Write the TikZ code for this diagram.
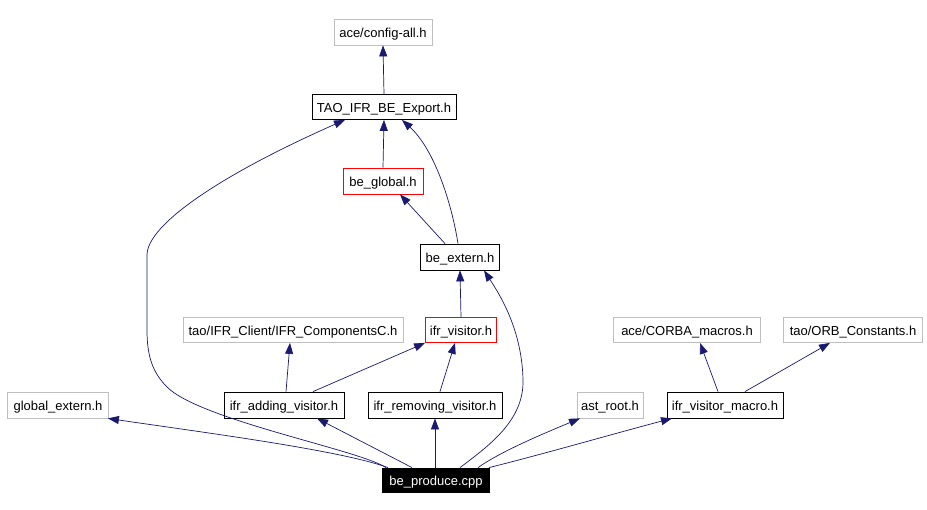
\documentclass[tikz,border=0pt]{standalone}
\usepackage{fontspec}
\setmainfont{Liberation Sans}
\usetikzlibrary{arrows.meta}
\definecolor{edgeblue}{HTML}{191970}
\definecolor{graybox}{HTML}{BFBFBF}
\definecolor{redbox}{HTML}{FF0000}
\tikzset{
  box/.style={draw=black, line width=0.8pt, fill=white, inner sep=0pt, minimum height=25pt,
    text height=12pt, text depth=0pt, font=\fontsize{13}{15}\selectfont},
  graynode/.style={box, draw=graybox},
  rednode/.style={box, draw=redbox},
  blacknode/.style={box, fill=black, text=white},
  dep/.style={draw=edgeblue, line width=0.7pt, -{Triangle[length=11pt,width=8pt]}, fill=none}
}
\begin{document}
\begin{tikzpicture}[x=1pt,y=-1pt]
\useasboundingbox (0,0) rectangle (927,510);
\fill[white] (0,0) rectangle (927,510);
\node[graynode, minimum width=98pt, minimum height=26pt] (config) at (383,32) {ace/config-all.h};
\node[box, minimum width=144pt] (export) at (384,107) {TAO\_IFR\_BE\_Export.h};
\node[rednode, minimum width=80pt, minimum height=26pt] (global) at (383,181) {be\_global.h};
\node[box, minimum width=79pt, minimum height=26pt] (extern) at (460,257) {be\_extern.h};
\node[rednode, minimum width=71pt] (visitor) at (461,330) {ifr\_visitor.h};
\node[graynode, minimum width=220pt] (comp) at (293,330) {tao/IFR\_Client/IFR\_ComponentsC.h};
\node[graynode, minimum width=101pt, minimum height=26pt] (gext) at (58,405) {global\_extern.h};
\node[box, minimum width=120pt, minimum height=26pt] (adding) at (284,405) {ifr\_adding\_visitor.h};
\node[box, minimum width=134pt, minimum height=26pt] (removing) at (435,405) {ifr\_removing\_visitor.h};
\node[blacknode, minimum width=107pt, minimum height=24pt] (produce) at (436,480) {be\_produce.cpp};
\node[graynode, minimum width=147pt] (corba) at (687,330) {ace/CORBA\_macros.h};
\node[graynode, minimum width=139pt] (orb) at (853,330) {tao/ORB\_Constants.h};
\node[graynode, minimum width=66pt, minimum height=26pt] (ast) at (610,405) {ast\_root.h};
\node[box, minimum width=116pt, minimum height=26pt] (macro) at (725,405) {ifr\_visitor\_macro.h};

\draw[dep] (export.north) -- (config.south);
\draw[dep] (global.north) -- (export.south);
\draw[dep] ([xshift=-2pt]extern.north) .. controls (452,205) and (435,150) .. ([xshift=18pt]export.south);
\draw[dep] ([xshift=-15pt]extern.north) -- ([xshift=17pt]global.south);
\draw[dep] (visitor.north) -- (extern.south);
\draw[dep] ([xshift=2pt]adding.north) -- ([xshift=-3pt]comp.south);
\draw[dep] ([xshift=29pt]adding.north) -- (visitor.south west);
\draw[dep] ([xshift=5pt]removing.north) -- ([xshift=-6pt]visitor.south);
\draw[dep] ([xshift=-7pt]macro.north) -- ([xshift=13pt]corba.south);
\draw[dep] ([xshift=20pt]macro.north) -- ([xshift=-23pt]orb.south);
\draw[dep] ([xshift=-48pt]produce.north) .. controls (340,450) and (200,432) .. ([xshift=-1pt]gext.south east);
\draw[dep] ([xshift=-50pt]produce.north) .. controls (360,450) and (200,420) .. (167,387)
  .. controls (152,372) and (147,355) .. (147,330) -- (147,255)
  .. controls (147,225) and (220,175) .. ([xshift=-39pt]export.south);
\draw[dep] ([xshift=-24pt]produce.north) -- ([xshift=33pt]adding.south);
\draw[dep] ([xshift=-1pt]produce.north) -- (removing.south);
\draw[dep] ([xshift=24pt]produce.north) .. controls (490,445) and (524,420) .. (523,380)
  .. controls (522,330) and (500,295) .. ([xshift=24pt]extern.south);
\draw[dep] ([xshift=42pt]produce.north) .. controls (500,452) and (540,435) .. ([xshift=-30pt]ast.south);
\draw[dep] ([xshift=-1pt]produce.north east) .. controls (540,455) and (620,432) .. ([xshift=-53pt]macro.south);
\end{tikzpicture}
\end{document}
